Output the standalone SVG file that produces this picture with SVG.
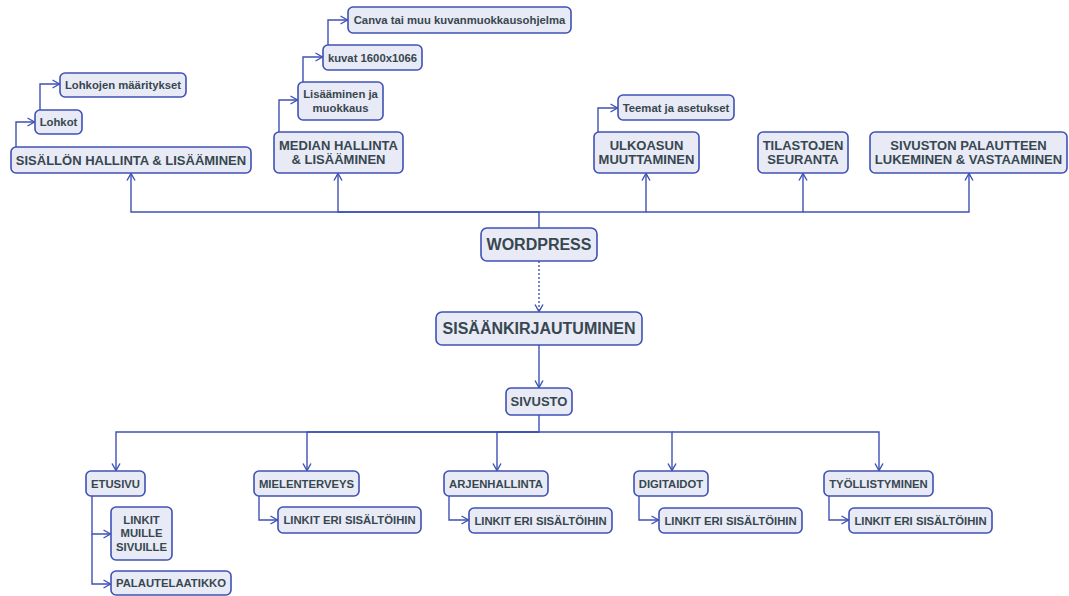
<svg xmlns="http://www.w3.org/2000/svg" width="1069" height="596" viewBox="0 0 1069 596">
<defs>
<style>
.n rect{fill:#e8eaf6;stroke:#3f51b5;stroke-width:1.6;}
.n text{font-family:"Liberation Sans",Arial,sans-serif;font-weight:bold;fill:#37474f;text-anchor:middle;}
.l text{font-size:13px;}
.xl text{font-size:16px;}
.s text{font-size:11.3px;}
.c path{fill:none;stroke:#3f51b5;stroke-width:1.4;marker-end:url(#ah);}
.c path.d{stroke-dasharray:2 2;}
</style>
<marker id="ah" markerUnits="userSpaceOnUse" markerWidth="10" markerHeight="12" refX="8" refY="5" orient="auto">
<path d="M1,1 L8,5 L1,9" fill="none" stroke="#3f51b5" stroke-width="1.4"/>
</marker>
</defs>
<rect width="1069" height="596" fill="#ffffff"/>
<g id="connectors" class="c">
<path d="M539,228 V212 H131 V173.5"/>
<path d="M539,212 H338 V173.5"/>
<path d="M539,212 H646 V173.5"/>
<path d="M646,212 H803 V173.5"/>
<path d="M803,212 H969 V173.5"/>
<path d="M16,147 V122 H34.5"/>
<path d="M40,110 V84 H59.5"/>
<path d="M279,132 V100 H297.5"/>
<path d="M303,82 V57 H322.5"/>
<path d="M328,45 V20 H347.5"/>
<path d="M598,132 V108 H617.5"/>
<path class="d" d="M539,261 V311.5"/>
<path d="M539,345 V387.5"/>
<path d="M539,415 V432 H116 V470.5"/>
<path d="M539,432 H307 V470.5"/>
<path d="M539,432 H497 V470.5"/>
<path d="M539,432 H672 V470.5"/>
<path d="M672,432 H879 V470.5"/>
<path d="M92,496 V534 H110.5"/>
<path d="M92,534 V584 H110.5"/>
<path d="M259,496 V520 H277.5"/>
<path d="M449,496 V520 H468.5"/>
<path d="M639,496 V520 H658.5"/>
<path d="M829,496 V520 H848.5"/>
</g>
<g id="sisallon" class="n l"><rect x="11" y="147" width="240" height="26" rx="5"/><text x="131" y="164.6">SISÄLLÖN HALLINTA &amp; LISÄÄMINEN</text></g>
<g id="lohkot" class="n s"><rect x="35" y="110" width="47" height="24" rx="5"/><text x="58.5" y="126">Lohkot</text></g>
<g id="lohkojen" class="n s"><rect x="60" y="73" width="126" height="24" rx="5"/><text x="123" y="89">Lohkojen määritykset</text></g>
<g id="median" class="n l"><rect x="274" y="132" width="129" height="41" rx="5"/><text x="338.5" y="149.8">MEDIAN HALLINTA</text><text x="338.5" y="164.2">&amp; LISÄÄMINEN</text></g>
<g id="lisaaminen" class="n s"><rect x="298" y="82" width="85" height="38" rx="5"/><text x="340.5" y="98">Lisääminen ja</text><text x="340.5" y="112.3">muokkaus</text></g>
<g id="kuvat" class="n s"><rect x="323" y="45" width="99" height="25" rx="5"/><text x="372.5" y="61.5">kuvat 1600x1066</text></g>
<g id="canva" class="n s"><rect x="348" y="7" width="223" height="26" rx="5"/><text x="459.5" y="24">Canva tai muu kuvanmuokkausohjelma</text></g>
<g id="ulkoasun" class="n l"><rect x="594" y="132" width="105" height="41" rx="5"/><text x="646.5" y="149.8">ULKOASUN</text><text x="646.5" y="164.2">MUUTTAMINEN</text></g>
<g id="teemat" class="n s"><rect x="618" y="95" width="116" height="25" rx="5"/><text x="676" y="111.5">Teemat ja asetukset</text></g>
<g id="tilastojen" class="n l"><rect x="758" y="132" width="90" height="41" rx="5"/><text x="803" y="149.8">TILASTOJEN</text><text x="803" y="164.2">SEURANTA</text></g>
<g id="palaute" class="n l"><rect x="870" y="132" width="197" height="41" rx="5"/><text x="968.5" y="149.8">SIVUSTON PALAUTTEEN</text><text x="968.5" y="164.2">LUKEMINEN &amp; VASTAAMINEN</text></g>
<g id="wordpress" class="n xl"><rect x="481" y="228" width="116" height="33" rx="6"/><text x="539" y="250.2">WORDPRESS</text></g>
<g id="sisaan" class="n xl"><rect x="436" y="312" width="206" height="33" rx="6"/><text x="539" y="334.2">SISÄÄNKIRJAUTUMINEN</text></g>
<g id="sivusto" class="n l"><rect x="506" y="388" width="66" height="27" rx="5"/><text x="539" y="406.2">SIVUSTO</text></g>
<g id="etusivu" class="n s"><rect x="86" y="471" width="59" height="25" rx="5"/><text x="115.5" y="487.6">ETUSIVU</text></g>
<g id="linkit-muille" class="n s"><rect x="111" y="507" width="61" height="53" rx="5"/><text x="141.5" y="524">LINKIT</text><text x="141.5" y="537.4">MUILLE</text><text x="141.5" y="550.8">SIVUILLE</text></g>
<g id="palautelaatikko" class="n s"><rect x="111" y="571" width="120" height="24" rx="5"/><text x="171" y="587.2">PALAUTELAATIKKO</text></g>
<g id="mielenterveys" class="n s"><rect x="254" y="471" width="105" height="25" rx="5"/><text x="306.5" y="487.6">MIELENTERVEYS</text></g>
<g id="linkit-1" class="n s"><rect x="278" y="507" width="143" height="26" rx="5"/><text x="349.5" y="524.1">LINKIT ERI SISÄLTÖIHIN</text></g>
<g id="arjenhallinta" class="n s"><rect x="444" y="471" width="104" height="25" rx="5"/><text x="496" y="487.6">ARJENHALLINTA</text></g>
<g id="linkit-2" class="n s"><rect x="469" y="508" width="143" height="25" rx="5"/><text x="540.5" y="524.6">LINKIT ERI SISÄLTÖIHIN</text></g>
<g id="digitaidot" class="n s"><rect x="634" y="471" width="74" height="25" rx="5"/><text x="671" y="487.6">DIGITAIDOT</text></g>
<g id="linkit-3" class="n s"><rect x="659" y="508" width="143" height="25" rx="5"/><text x="730.5" y="524.6">LINKIT ERI SISÄLTÖIHIN</text></g>
<g id="tyollistyminen" class="n s"><rect x="824" y="471" width="109" height="25" rx="5"/><text x="878.5" y="487.6">TYÖLLISTYMINEN</text></g>
<g id="linkit-4" class="n s"><rect x="849" y="508" width="143" height="25" rx="5"/><text x="920.5" y="524.6">LINKIT ERI SISÄLTÖIHIN</text></g>
</svg>
